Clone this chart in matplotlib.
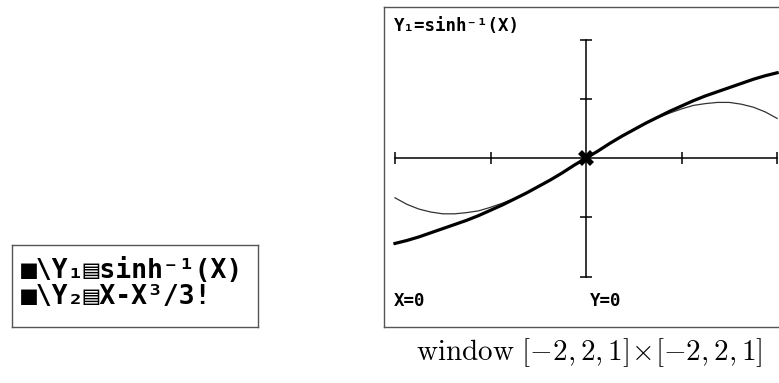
import numpy as np
import matplotlib
matplotlib.use("Agg")
from matplotlib import pyplot as plt

plt.rcParams['mathtext.fontset'] = 'cm'

# values
xs = [-2.0, -1.875, -1.75, -1.625, -1.5, -1.375, -1.25, -1.125, -1.0,
      -0.875, -0.75, -0.625, -0.5, -0.375, -0.25, -0.125, 0.0,
      0.125, 0.25, 0.375, 0.5, 0.625, 0.75, 0.875, 1.0,
      1.125, 1.25, 1.375, 1.5, 1.625, 1.75, 1.875, 2.0]
y1 = [-1.44, -1.39, -1.33, -1.26, -1.19, -1.12, -1.05, -0.97, -0.88,
      -0.79, -0.69, -0.59, -0.48, -0.37, -0.25, -0.12, 0.0,
      0.12, 0.25, 0.37, 0.48, 0.59, 0.69, 0.79, 0.88,
      0.97, 1.05, 1.12, 1.19, 1.26, 1.33, 1.39, 1.44]
y2 = [-0.67, -0.78, -0.86, -0.91, -0.94, -0.94, -0.92, -0.89, -0.83,
      -0.76, -0.68, -0.58, -0.48, -0.37, -0.25, -0.12, 0.0,
      0.12, 0.25, 0.37, 0.48, 0.58, 0.68, 0.76, 0.83,
      0.89, 0.92, 0.94, 0.94, 0.91, 0.86, 0.78, 0.67]
ticks = [-2, -1, 1, 2]
line1 = "■\\Y₁▤sinh⁻¹(X)"
line2 = "■\\Y₂▤X-X³/3!"
caption = r"$\mathrm{window}\ [-2,2,1]\!\times\![-2,2,1]$"

W, H = 779, 383
fig = plt.figure(figsize=(W / 100, H / 100), dpi=100)

def box(x0, y0, x1, y1_):
    return [x0 / W, 1 - y1_ / H, (x1 - x0) / W, (y1_ - y0) / H]

# Y= editor box
ax0 = fig.add_axes(box(12, 245, 258, 327))
ax0.set_xticks([])
ax0.set_yticks([])
for s in ax0.spines.values():
    s.set_color('#555555')
    s.set_linewidth(1.0)
mono = dict(family='DejaVu Sans Mono', fontweight='bold', fontsize=19,
            transform=ax0.transAxes, va='center', ha='left')
ax0.text(0.035, 0.68, line1, **mono)
ax0.text(0.035, 0.36, line2, **mono)

# graph screen
ax = fig.add_axes(box(384, 7, 780, 327))
ax.set_xlim(-2.115, 2.03)
ax.set_ylim(-2.85, 2.55)
ax.set_xticks([])
ax.set_yticks([])
for s in ax.spines.values():
    s.set_color('#555555')
    s.set_linewidth(1.0)

ax.plot([-2, 2], [0, 0], color='black', lw=1.1)
ax.plot([0, 0], [-2, 2], color='black', lw=1.1)
ax.plot(ticks, [0] * len(ticks), ls='none', marker='|', ms=9, mew=1.1, color='black')
ax.plot([0] * len(ticks), ticks, ls='none', marker='_', ms=8, mew=1.1, color='black')

ax.plot(xs, y2, color='#333333', lw=0.9)
ax.plot(xs, y1, color='black', lw=2.3)
ax.plot([0], [0], marker='X', ms=11, color='black', mew=0)

scr = dict(family='DejaVu Sans Mono', fontweight='bold', fontsize=12.5,
           transform=ax.transAxes, va='center', ha='left')
ax.text(0.025, 0.94, "Y₁=sinh⁻¹(X)", **scr)
ax.text(0.025, 0.08, "X=0", **scr)
ax.text(0.52, 0.08, "Y=0", **scr)

fig.text(589 / W, 1 - 353 / H, caption, fontsize=21, ha='center', va='center')

fig.savefig("out.png", dpi=100)
